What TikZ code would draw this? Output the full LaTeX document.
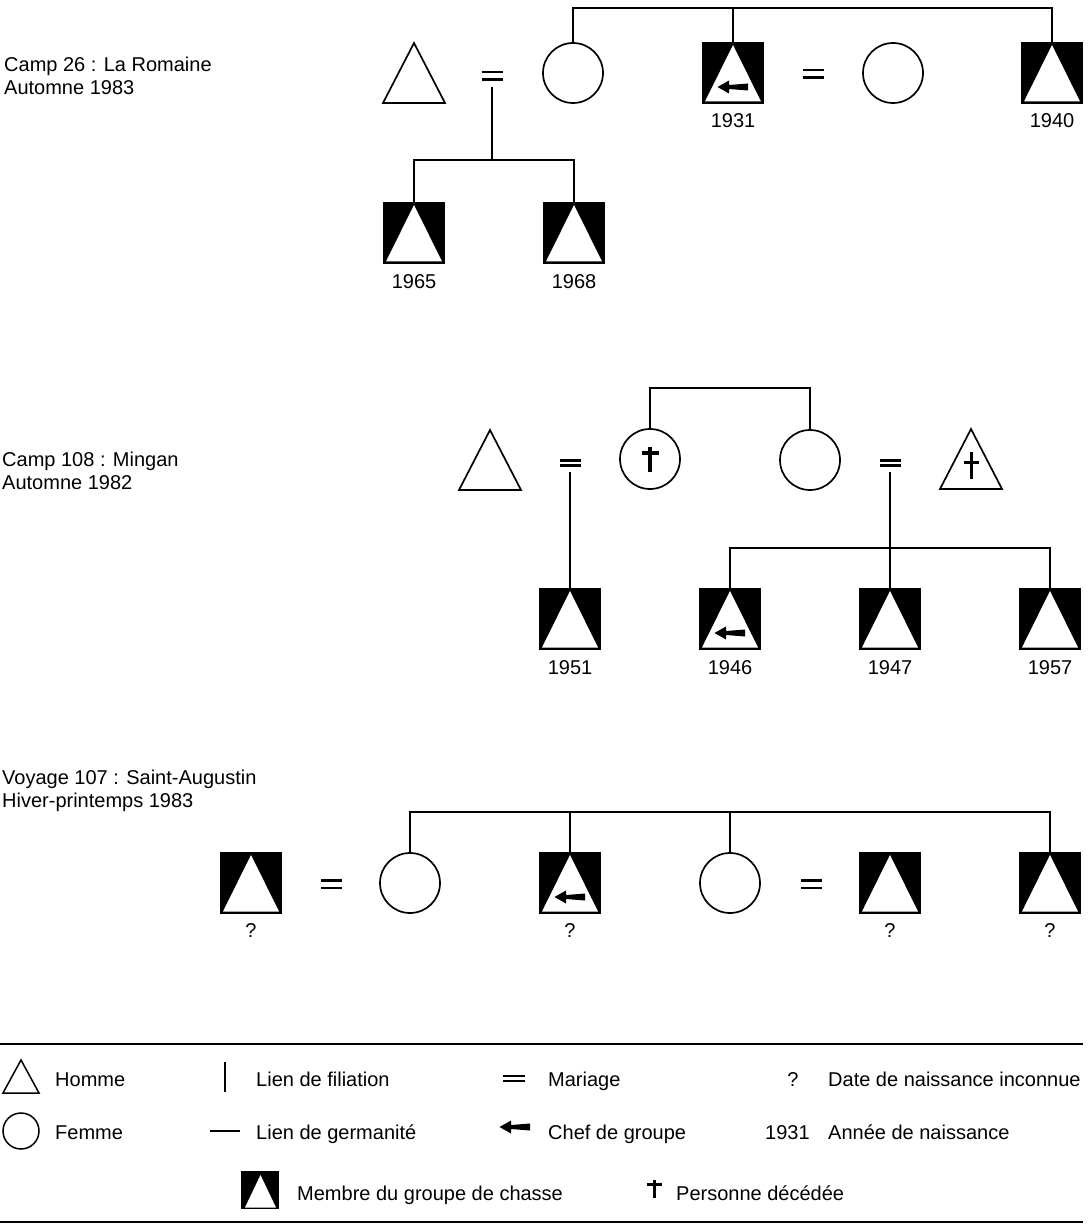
\documentclass[tikz,border=0pt]{standalone}
\usepackage{fontspec}
\setmainfont{Liberation Sans}
\newcommand\Ptri{\draw[line width=1.7pt,line join=miter,shift={(path picture bounding box.center)}] (-31,30) -- (0,-30) -- (31,30) -- cycle;}
\newcommand\Pwtri{\fill[white,shift={(path picture bounding box.center)}] (-28,28.5) -- (0,-28) -- (28,28.5) -- cycle;}
\newcommand\Parrow{\fill[black,shift={(path picture bounding box.center)}] (-15.5,14) -- (-4,7.5) -- (-4,12) -- (15,10.5) -- (15,17.5) -- (-4,16) -- (-4,20.5) -- cycle;}
\newcommand\Pdagw{\draw[line width=3.5pt,shift={(path picture bounding box.center)}] (0,-12) -- (0,13) (-8.5,-6) -- (8.5,-6);}
\newcommand\Pdagm{\draw[line width=3pt,shift={(path picture bounding box.center)}] (0,-7) -- (0,20) (-7.5,3) -- (7.5,3);}
\begin{document}
\begin{tikzpicture}[x=1pt,y=-1pt,
  ln/.style={line width=1.8pt},
  txt/.style={inner sep=0pt, font=\fontsize{20}{24}\selectfont},
  man/.style={rectangle, minimum size=70pt, inner sep=0pt, path picture={\Ptri}},
  deadman/.style={rectangle, minimum size=70pt, inner sep=0pt, path picture={\Ptri\Pdagm}},
  wom/.style={circle, draw, line width=1.7pt, minimum size=60pt, inner sep=0pt},
  deadwom/.style={wom, path picture={\Pdagw}},
  hunt/.style={rectangle, fill=black, minimum size=62pt, inner sep=0pt, path picture={\Pwtri}},
  chief/.style={rectangle, fill=black, minimum size=62pt, inner sep=0pt, path picture={\Pwtri\Parrow}},
  marr/.style={rectangle, minimum width=26pt, minimum height=22pt, inner sep=0pt,
    path picture={\draw[line width=2.6pt,shift={(path picture bounding box.center)}] (-10.5,-3.8) -- (10.5,-3.8) (-10.5,3.8) -- (10.5,3.8);}},
  marrs/.style={rectangle, minimum width=26pt, minimum height=18pt, inner sep=0pt,
    path picture={\draw[line width=2.4pt,shift={(path picture bounding box.center)}] (-10.5,-2.5) -- (10.5,-2.5) (-10.5,2.5) -- (10.5,2.5);}}
]
\useasboundingbox (0,0) rectangle (1091,1230);

% ---------- Section 1 ----------
\node[txt, anchor=base west] (t1a) at (4,72) {Camp 26 : La Romaine};
\node[txt, anchor=base west] (t1b) at (4,94.5) {Automne 1983};

\node[man] (p1) at (414,73) {};
\node[marr] (mar1) at (492,76) {};
\node[wom] (w1) at (573,73) {};
\node[chief] (h1931) at (733,73) {};
\node[marr] (mar2) at (813,74) {};
\node[wom] (w2) at (893,73) {};
\node[hunt] (h1940) at (1052,73) {};
\node[hunt] (k1965) at (414,233) {};
\node[hunt] (k1968) at (574,233) {};

\node[txt, anchor=base] (y1931) at (733,128) {1931};
\node[txt, anchor=base] (y1940) at (1052,128) {1940};
\node[txt, anchor=base] (y1965) at (414,288) {1965};
\node[txt, anchor=base] (y1968) at (574,288) {1968};

\coordinate (s1) at (733,8);
\coordinate (b1) at (492,160);
\draw[ln] (s1) -- (h1931.north);
\draw[ln] (s1) -| (w1.north);
\draw[ln] (s1) -| (h1940.north);
\draw[ln] (mar1.south) -- (b1);
\draw[ln] (b1) -| (k1965.north);
\draw[ln] (b1) -| (k1968.north);

% ---------- Section 2 ----------
\node[txt, anchor=base west] (t2a) at (2,466) {Camp 108 : Mingan};
\node[txt, anchor=base west] (t2b) at (2,489) {Automne 1982};

\node[man] (p2) at (490,460) {};
\node[marrs] (mar3) at (570,463) {};
\node[deadwom] (d1) at (650,459) {};
\node[wom] (w3) at (810,460) {};
\node[marrs] (mar4) at (890,463) {};
\node[deadman] (dm) at (971,459) {};
\node[hunt] (k1951) at (570,619) {};
\node[chief] (k1946) at (730,619) {};
\node[hunt] (k1947) at (890,619) {};
\node[hunt] (k1957) at (1050,619) {};

\node[txt, anchor=base] (y1951) at (570,674) {1951};
\node[txt, anchor=base] (y1946) at (730,674) {1946};
\node[txt, anchor=base] (y1947) at (890,674) {1947};
\node[txt, anchor=base] (y1957) at (1050,674) {1957};

\coordinate (s2) at (730,388);
\coordinate (b3) at (890,548);
\draw[ln] (s2) -| (d1.north);
\draw[ln] (s2) -| (w3.north);
\draw[ln] (mar3.south) -- (k1951.north);
\draw[ln] (mar4.south) -- (b3);
\draw[ln] (b3) -| (k1946.north);
\draw[ln] (b3) -- (k1947.north);
\draw[ln] (b3) -| (k1957.north);

% ---------- Section 3 ----------
\node[txt, anchor=base west] (t3a) at (2,784) {Voyage 107 : Saint-Augustin};
\node[txt, anchor=base west] (t3b) at (2,807) {Hiver-printemps 1983};

\node[hunt] (h3a) at (251,883) {};
\node[marr] (mar5) at (331,884) {};
\node[wom] (w4) at (410,883) {};
\node[chief] (h3b) at (570,883) {};
\node[wom] (w5) at (730,883) {};
\node[marr] (mar6) at (811,884) {};
\node[hunt] (h3c) at (890,883) {};
\node[hunt] (h3d) at (1050,883) {};

\node[txt, anchor=base] (q1) at (251,937) {?};
\node[txt, anchor=base] (q2) at (570,937) {?};
\node[txt, anchor=base] (q3) at (890,937) {?};
\node[txt, anchor=base] (q4) at (1050,937) {?};

\coordinate (s3) at (730,812);
\draw[ln] (s3) -- (w5.north);
\draw[ln] (s3) -| (w4.north);
\draw[ln] (s3) -| (h3b.north);
\draw[ln] (s3) -| (h3d.north);

% ---------- Legend ----------
\draw[line width=2.5pt] (0,1044) -- (1083,1044);
\draw[line width=2.5pt] (0,1222) -- (1083,1222);

\draw[line width=1.5pt] (3,1093) -- (21,1060) -- (39,1093) -- cycle;
\node[txt, anchor=base west] (lh) at (55,1086) {Homme};
\draw[line width=1.8pt] (225,1062) -- (225,1092);
\node[txt, anchor=base west] (lf) at (256,1086) {Lien de filiation};
\draw[line width=2.4pt] (503,1076) -- (525,1076) (503,1081) -- (525,1081);
\node[txt, anchor=base west] (lm) at (548,1086) {Mariage};
\node[txt, anchor=base] (lq) at (793,1086) {?};
\node[txt, anchor=base west] (ld) at (828,1086) {Date de naissance inconnue};

\draw[line width=1.5pt] (21,1131) circle (18);
\node[txt, anchor=base west] (lw) at (55,1139) {Femme};
\draw[line width=1.5pt] (210,1131) -- (240,1131);
\node[txt, anchor=base west] (lg) at (256,1139) {Lien de germanité};
\fill[black, shift={(515,1113)}] (-15.5,14) -- (-4,7.5) -- (-4,12) -- (15,10.5) -- (15,17.5) -- (-4,16) -- (-4,20.5) -- cycle;
\node[txt, anchor=base west] (lc) at (548,1139) {Chef de groupe};
\node[txt, anchor=base west] (ly) at (765,1139) {1931};
\node[txt, anchor=base west] (la) at (828,1139) {Année de naissance};

\fill[black] (241,1171) rectangle (279,1209);
\fill[white] (245,1207.5) -- (260.5,1175) -- (276,1207.5) -- cycle;
\node[txt, anchor=base west] (lmem) at (297,1200) {Membre du groupe de chasse};
\draw[line width=3.2pt] (654.5,1180) -- (654.5,1198) (647,1184.5) -- (662,1184.5);
\node[txt, anchor=base west] (ldd) at (676,1200) {Personne décédée};
\end{tikzpicture}
\end{document}
